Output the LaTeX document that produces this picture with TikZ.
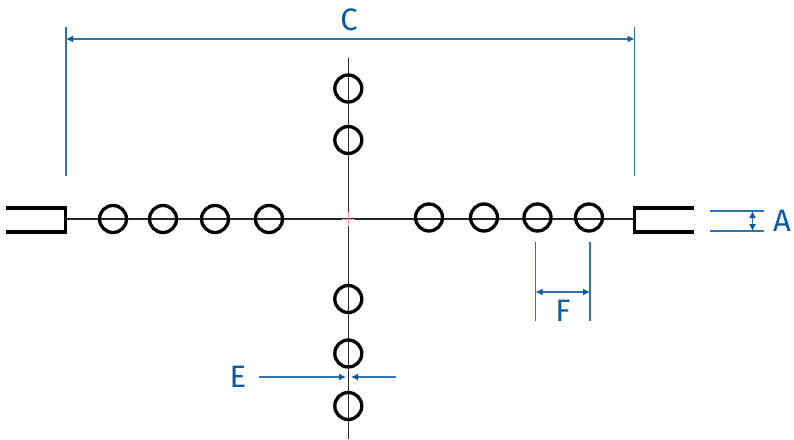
\documentclass[tikz,border=0pt]{standalone}
\usepackage{fontspec}
\setmainfont{Fira Sans}
\usetikzlibrary{arrows.meta}
\definecolor{dimblue}{HTML}{2F74AE}
\definecolor{labelblue}{HTML}{0B5A9E}
\tikzset{
  x=1pt,y=-1pt,
  ring/.style={circle,draw=black,line width=3.3pt,minimum size=27pt,inner sep=0pt,outer sep=0pt},
  axis/.style={draw=black!85,line width=1.1pt},
  fork/.style={draw=black,line width=3.4pt,line cap=butt,line join=miter},
  dimline/.style={draw=dimblue,line width=1.2pt},
  dimarrow/.style={dimline,{Latex[length=7pt,width=7pt,color=labelblue]}-{Latex[length=7pt,width=7pt,color=labelblue]}},
  oneway/.style={dimline,-{Latex[length=7pt,width=7pt,color=labelblue]}},
  dimlabel/.style={text=labelblue,font=\fontsize{31}{31}\selectfont,inner sep=0pt},
}
\begin{document}
\begin{tikzpicture}
\useasboundingbox (0,0) rectangle (794,439);
% axes
\coordinate (hL) at (66,219);
\coordinate (hR) at (634,219);
\coordinate (vT) at (348.3,58);
\coordinate (vB) at (348.3,439);
\coordinate (mid) at (348.3,219);
\draw[axis] (hL) -- (hR);
\draw[axis] (vT) -- (vB);
\draw[draw=red!45!black!15!white,draw=red!40,line width=1pt] (342,219) -- (355,219) (348.3,212) -- (348.3,226);
% rings
\foreach \n/\x/\y in {l1/113/219,l2/163/219,l3/215/219,l4/269/219,
                      r1/429/217.5,r2/484/217.5,r3/537.5/217.5,r4/589/217.5,
                      t1/348.3/88.5,t2/348.3/140,
                      b1/348.3/299,b2/348.3/353.5,b3/348.3/406}
  \node[ring] (\n) at (\x,\y) {};
% forks
\coordinate (lfa) at (6,208);
\coordinate (lfb) at (65.5,208);
\coordinate (lfc) at (65.5,232);
\coordinate (lfd) at (6,232);
\coordinate (rfa) at (694,208);
\coordinate (rfb) at (634.5,208);
\coordinate (rfc) at (634.5,232);
\coordinate (rfd) at (694,232);
\draw[fork] (lfa) -- (lfb) -- (lfc) -- (lfd);
\draw[fork] (rfa) -- (rfb) -- (rfc) -- (rfd);
% dimension C
\coordinate (c1) at (66,27);
\coordinate (c2) at (66,176);
\coordinate (c3) at (634.5,27);
\coordinate (c4) at (634.5,176);
\coordinate (ca) at (66,39);
\coordinate (cb) at (634.5,39);
\draw[dimline] (c1) -- (c2);
\draw[dimline] (c3) -- (c4);
\draw[dimarrow] (ca) -- (cb);
\node[dimlabel] (C) at (349,20) {C};
% dimension A
\coordinate (a1) at (710,211);
\coordinate (a2) at (764,211);
\coordinate (a3) at (710,231);
\coordinate (a4) at (764,231);
\coordinate (aa) at (752.5,211);
\coordinate (ab) at (752.5,231);
\draw[dimline] (a1) -- (a2);
\draw[dimline] (a3) -- (a4);
\draw[dimarrow] (aa) -- (ab);
\node[dimlabel] (A) at (782,221) {A};
% dimension F
\coordinate (f1) at (535.5,242);
\coordinate (f2) at (535.5,321);
\coordinate (f3) at (590,242);
\coordinate (f4) at (590,321);
\coordinate (fa) at (535.5,292);
\coordinate (fb) at (590,292);
\draw[dimline] (f1) -- (f2);
\draw[dimline] (f3) -- (f4);
\draw[dimarrow] (fa) -- (fb);
\node[dimlabel] (F) at (563,311) {F};
% dimension E
\coordinate (e1) at (259,377);
\coordinate (e2) at (346,377);
\coordinate (e3) at (396,377);
\coordinate (e4) at (351,377);
\draw[oneway] (e1) -- (e2);
\draw[oneway] (e3) -- (e4);
\node[dimlabel] (E) at (238,377) {E};
\end{tikzpicture}
\end{document}
